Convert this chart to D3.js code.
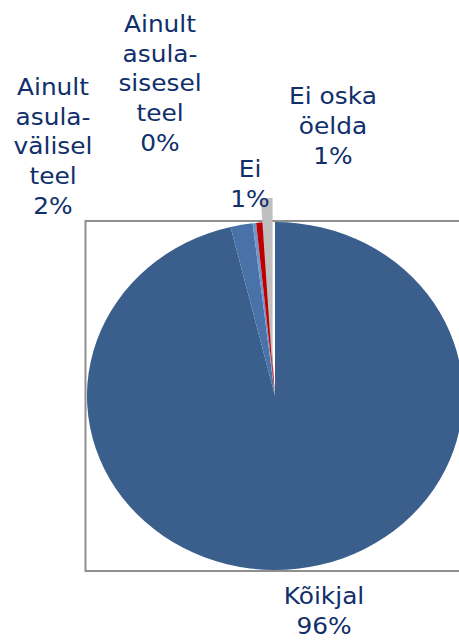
<!DOCTYPE html>
<html>
<head>
<meta charset="utf-8">
<script src="https://cdn.jsdelivr.net/npm/d3@7"></script>
<style>
  html, body { margin: 0; padding: 0; background: #fff; }
  svg { display: block; }
  text { font-family: "DejaVu Sans", Verdana, sans-serif; font-size: 23px; fill: #112F6B; }
</style>
</head>
<body>
<svg id="chart" width="459" height="640"></svg>
<script>
// ---- data ----
const categories = ["Kõikjal", "Ainult asula-välisel teel", "Ainult asula-sisesel teel", "Ei", "Ei oska öelda"];
const values = [96.2, 1.9, 0.3, 0.6, 1.0];
const labelLines = [["Kõikjal"], ["Ainult", "asula-", "välisel", "teel"], ["Ainult", "asula-", "sisesel", "teel"], ["Ei"], ["Ei oska", "öelda"]];
const colors = ["#3B5F8D", "#4872A8", "#7097CA", "#C00000", "#BFBFBF"];
const exploded = [0, 0, 0, 0, 24];

// ---- layout (label anchors: centre x, first baseline y) ----
const labelPos = [[324, 604.5], [53, 95], [160, 32], [250, 177], [333, 104.5]];
const lineH = 29.7;
const textStretch = 1.08;

const svg = d3.select("#chart");
const cx = 275, cy = 396, rx = 188, ry = 174;

// plot area border
svg.append("rect")
  .attr("x", 85.5).attr("y", 221).attr("width", 380).attr("height", 350)
  .attr("fill", "none").attr("stroke", "#8E8E8E").attr("stroke-width", 2);

const pie = d3.pie().sort(null).value(d => d)(values);
const arc = d3.arc().innerRadius(0).outerRadius(ry);

const g = svg.append("g")
  .attr("transform", `translate(${cx},${cy}) scale(${rx / ry},1)`);

g.selectAll("path").data(pie).join("path")
  .attr("d", arc)
  .attr("fill", (d, i) => colors[i])
  .attr("transform", (d, i) => {
    const a = (d.startAngle + d.endAngle) / 2;
    const e = exploded[i];
    return `translate(${Math.sin(a) * e - (e ? 1.5 : 0)},${-Math.cos(a) * e})`;
  });

// labels
const labels = svg.append("g");
categories.forEach((c, i) => {
  const lines = labelLines[i].concat([Math.round(values[i]) + "%"]);
  const t = labels.append("text")
    .attr("text-anchor", "middle")
    .attr("transform", `translate(${labelPos[i][0]},0) scale(${textStretch},1)`);
  lines.forEach((ln, k) => {
    t.append("tspan").attr("x", 0).attr("y", labelPos[i][1] + k * lineH).text(ln);
  });
});
</script>
</body>
</html>
